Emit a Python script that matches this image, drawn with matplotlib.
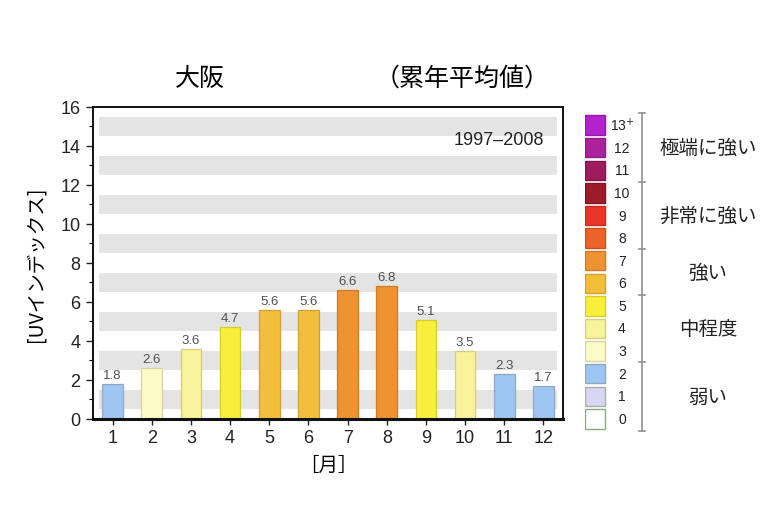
import matplotlib
matplotlib.use('Agg')
import matplotlib.pyplot as plt

plt.rcParams['font.family'] = ['Liberation Sans', 'Noto Sans CJK JP', 'DejaVu Sans']
JP = ['Noto Sans CJK JP', 'DejaVu Sans']

months = [1, 2, 3, 4, 5, 6, 7, 8, 9, 10, 11, 12]
uv_mean = [1.8, 2.6, 3.6, 4.7, 5.6, 5.6, 6.6, 6.8, 5.1, 3.5, 2.3, 1.7]

levels = [0, 1, 2, 3, 4, 5, 6, 7, 8, 9, 10, 11, 12, 13]
level_labels = ['0', '1', '2', '3', '4', '5', '6', '7', '8', '9', '10', '11', '12', '13$^{+}$']
level_colors = ['#FFFFFF', '#D8D6F4', '#9EC6F2', '#FCFAC6', '#F9F29C', '#F8EF3C',
                '#F3BE3C', '#EE9332', '#EA6429', '#E8352B', '#9C1C2A', '#9E1C5E',
                '#AE219C', '#B422CE']
level_edges = ['#8AAA80', '#A8B0A0', '#90A8C0', '#D8D4A0', '#D6CC80', '#D6CC30',
               '#D6A030', '#D07828', '#C85020', '#C82820', '#801420', '#801450',
               '#902080', '#9418AA']
groups = ['弱い', '中程度', '強い', '非常に強い', '極端に強い']
group_ranges = [(0, 2), (3, 5), (6, 7), (8, 10), (11, 13)]


def level_of(v):
    return min(int(round(v)), 13)


fig = plt.figure(figsize=(7.7, 5.1), dpi=100)
ax = fig.add_axes([0.1208, 0.1765, 0.6104, 0.6118])

for k in range(0, 16, 2):
    ax.axhspan(k + 0.5, k + 1.5, xmin=0.012, xmax=0.988, color='#E4E4E4', lw=0, zorder=0)

bar_colors = [level_colors[level_of(v)] for v in uv_mean]
edge_colors = [level_edges[level_of(v)] for v in uv_mean]
ax.bar(months, uv_mean, width=0.53, color=bar_colors, edgecolor=edge_colors,
       linewidth=0.9, zorder=2)
for m, v in zip(months, uv_mean):
    ax.text(m, v + 0.15, f'{v:.1f}', ha='center', va='bottom', fontsize=9.5,
            color='#505050', zorder=3)

ax.set_xlim(0.5, 12.5)
ax.set_ylim(0, 16)
ax.set_xticks(months)
ax.set_yticks(range(0, 17, 2))
ax.set_yticks(range(1, 16, 2), minor=True)
ax.tick_params(axis='both', direction='out', labelsize=13, colors='#222222')
ax.tick_params(axis='y', length=5, width=1, pad=4)
ax.tick_params(axis='y', which='minor', length=3, width=0.8)
ax.tick_params(axis='x', length=4, width=1, pad=3)
for s in ax.spines.values():
    s.set_linewidth(1.4)
    s.set_color('#111111')
ax.spines['bottom'].set_linewidth(2.2)

ax.set_ylabel('[UVインデックス]', family=JP, fontsize=14, labelpad=10)
ax.set_xlabel('［月］', family=JP, fontsize=14, labelpad=6)
ax.text(0.96, 0.895, '1997–2008', transform=ax.transAxes, ha='right', va='center',
        fontsize=13, color='#222222')

fig.text(0.26, 0.845, '大阪', family=JP, fontsize=18, ha='center', va='center')
fig.text(0.60, 0.845, '（累年平均値）', family=JP, fontsize=18, ha='center', va='center')

# colour scale legend
lg = fig.add_axes([585 / 770, 77 / 510, 185 / 770, 320 / 510])
lg.set_xlim(0, 185)
lg.set_ylim(-0.58, 13.58)
lg.axis('off')
lg.barh(levels, 20, left=0, height=0.86, color=level_colors, edgecolor=level_edges,
        linewidth=1.0)
for lv, lab in zip(levels, level_labels):
    lg.text(37, lv, lab, ha='center', va='center', fontsize=10, color='#222222')

lg.plot([57, 57], [-0.55, 13.55], color='#909090', lw=1.2)
for b in [-0.55, 2.5, 5.5, 7.5, 10.5, 13.55]:
    lg.plot([54, 60], [b, b], color='#909090', lw=1.2)
for g, (lo, hi) in zip(groups, group_ranges):
    lg.text(123, (lo + hi) / 2, g, family=JP, ha='center', va='center', fontsize=14,
            color='#222222')

fig.savefig('out.png', dpi=100)
